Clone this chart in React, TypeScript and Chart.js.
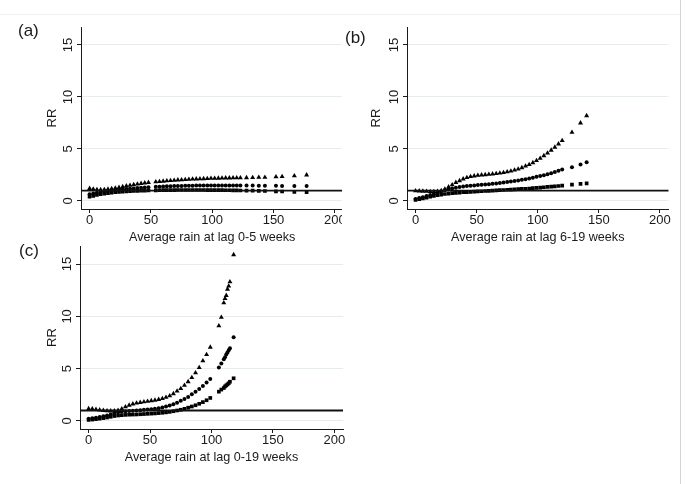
import React, { useEffect, useRef } from "react";
import { Chart, registerables } from "chart.js";
Chart.register(...registerables);

// ---------- data ----------
const xTicks = [0, 50, 100, 150, 200];
const yTicks = [0, 5, 10, 15];
const refRR = 1;

// (a) lag 0-5 weeks
const rainA = [0,3,6,9,12,15,18,21,24,27,30,33,36,39,42,45,48,54,57,60,63,66,69,72,75,78,81,84,87,90,93,96,99,102,105,108,111,114,117,120,123,128,133,138,143,152,157,167,177];
const upperA = [1.2,1.15,1.1,1.08,1.1,1.13,1.18,1.24,1.3,1.37,1.44,1.5,1.56,1.62,1.68,1.73,1.78,
  1.84,1.87,1.9,1.93,1.96,1.99,2.02,2.04,2.06,2.08,2.1,2.12,2.13,2.14,2.15,2.17,2.18,2.19,2.2,2.21,2.21,2.22,2.22,2.23,
  2.24,2.25,2.27,2.28,2.32,2.34,2.42,2.5];
const rrA = [0.65,0.72,0.79,0.86,0.92,0.97,1.01,1.05,1.09,1.12,1.15,1.18,1.21,1.24,1.27,1.3,1.33,
  1.36,1.38,1.39,1.41,1.42,1.43,1.44,1.45,1.46,1.47,1.47,1.48,1.48,1.49,1.49,1.5,1.5,1.5,1.5,1.5,1.5,1.5,1.49,1.49,
  1.48,1.48,1.47,1.47,1.46,1.45,1.44,1.43];
const lowerA = [0.42,0.5,0.58,0.65,0.71,0.76,0.8,0.84,0.87,0.9,0.92,0.94,0.96,0.98,0.99,1.0,1.01,
  1.02,1.03,1.04,1.04,1.05,1.05,1.06,1.06,1.06,1.06,1.06,1.06,1.06,1.06,1.05,1.05,1.05,1.04,1.04,1.03,1.03,1.02,1.02,1.01,
  1.0,0.99,0.97,0.96,0.93,0.91,0.87,0.84];

// (b) lag 6-19 weeks
const rainB = [0,3,6,9,12,15,18,21,24,27,30,33,36,39,42,45,48,51,54,57,60,63,66,69,72,75,78,81,84,87,90,93,96,99,102,105,108,111,114,117,120,128,135,140];
const upperB = [0.98,0.96,0.94,0.92,0.91,0.9,0.92,1.0,1.15,1.35,1.55,1.78,1.95,2.12,2.25,2.34,2.41,2.46,2.5,2.53,2.56,2.6,2.64,2.68,2.73,2.8,2.88,2.97,3.07,3.2,3.35,3.5,3.68,3.88,4.1,4.35,4.6,4.88,5.17,5.48,5.8,6.6,7.5,8.2];
const rrB = [0.2,0.28,0.37,0.47,0.57,0.68,0.8,0.92,1.03,1.13,1.21,1.28,1.34,1.39,1.43,1.47,1.5,1.53,1.56,1.59,1.62,1.65,1.68,1.72,1.77,1.82,1.87,1.92,1.98,2.04,2.1,2.17,2.24,2.32,2.4,2.48,2.57,2.67,2.78,2.9,3.02,3.25,3.5,3.72];
const lowerB = [0.1,0.17,0.25,0.33,0.41,0.49,0.56,0.62,0.67,0.71,0.75,0.78,0.81,0.84,0.86,0.88,0.9,0.92,0.94,0.96,0.98,1.0,1.02,1.04,1.06,1.08,1.1,1.12,1.14,1.16,1.18,1.2,1.23,1.26,1.29,1.32,1.35,1.38,1.41,1.44,1.47,1.58,1.65,1.7];

// (c) lag 0-19 weeks
const rainC = [0,3,6,9,12,15,18,21,24,27,30,33,36,39,42,45,48,51,54,57,60,63,66,69,72,75,78,81,84,87,90,93,96,99,106,108,110,111,112,113,114,115,118];
const upperC = [1.17,1.15,1.1,1.05,1.0,0.97,0.95,0.96,1.02,1.15,1.35,1.5,1.62,1.7,1.77,1.83,1.88,1.93,1.98,2.05,2.13,2.25,2.4,2.6,2.85,3.1,3.4,3.75,4.15,4.6,5.1,5.75,6.35,7.05,
  9.1,9.9,11.3,11.7,12.0,12.6,12.9,13.3,15.9];
const rrC = [0.2,0.25,0.3,0.37,0.45,0.53,0.62,0.72,0.82,0.88,0.92,0.95,0.98,1.0,1.03,1.06,1.09,1.12,1.16,1.21,1.28,1.37,1.48,1.6,1.75,1.92,2.1,2.3,2.55,2.8,3.05,3.35,3.68,4.02,
  5.1,5.5,5.9,6.1,6.35,6.55,6.75,6.95,8.0];
const lowerC = [0.1,0.13,0.17,0.22,0.27,0.33,0.4,0.47,0.52,0.55,0.58,0.6,0.61,0.62,0.64,0.66,0.68,0.7,0.72,0.75,0.78,0.82,0.87,0.93,1.0,1.07,1.16,1.27,1.38,1.5,1.64,1.8,1.98,2.2,
  2.8,3.0,3.15,3.3,3.4,3.5,3.6,3.75,4.08];

// ---------- styling ----------
const FONT = "'Liberation Sans', Arial, Helvetica, sans-serif";
const INK = "#1a1a1a";

type Geom = {
  cx: number; cy: number; w: number; h: number;
  left: number; top: number; right: number; bottom: number;
  rrPad: number; xTitlePad: number; bg?: string;
};

const geomA: Geom = { cx: 0, cy: 0, w: 360, h: 250, left: 81, top: 27, right: 343.4, bottom: 209, rrPad: 44.7, xTitlePad: 5.4 };
const geomB: Geom = { cx: 342, cy: 0, w: 343, h: 250, left: 65, top: 27, right: 326.5, bottom: 209, rrPad: 26.9, xTitlePad: 5.4, bg: "#fff" };
const geomC: Geom = { cx: 0, cy: 230, w: 360, h: 254, left: 80, top: 16, right: 343, bottom: 199, rrPad: 44.7, xTitlePad: 19.4 };

const refLinePlugin = {
  id: "refLine",
  afterDatasetsDraw(chart: any) {
    const { ctx, chartArea, scales } = chart;
    const y = scales.y.getPixelForValue(refRR);
    ctx.save();
    ctx.strokeStyle = "#111";
    ctx.lineWidth = 1.8;
    ctx.beginPath();
    ctx.moveTo(chartArea.left, y);
    ctx.lineTo(chartArea.right, y);
    ctx.stroke();
    ctx.restore();
  },
};

function buildConfig(rain: number[], upper: number[], rr: number[], lower: number[], xTitle: string, g: Geom): any {
  const pts = (ys: number[]) => rain.map((x, i) => ({ x, y: ys[i] }));
  const tickFont = { family: FONT, size: 13 };
  return {
    type: "scatter",
    data: {
      datasets: [
        { data: pts(upper), pointStyle: "triangle", pointRadius: 2.9, backgroundColor: "#000", borderWidth: 0 },
        { data: pts(rr), pointStyle: "circle", pointRadius: 2.0, backgroundColor: "#000", borderWidth: 0 },
        { data: pts(lower), pointStyle: "rect", pointRadius: 2.6, backgroundColor: "#000", borderWidth: 0 },
      ],
    },
    options: {
      animation: false,
      responsive: false,
      maintainAspectRatio: false,
      events: [],
      layout: { padding: { left: 0, top: g.top, right: g.w - g.right, bottom: 0 } },
      plugins: { legend: { display: false }, tooltip: { enabled: false }, title: { display: false } },
      scales: {
        x: {
          type: "linear",
          position: "bottom",
          min: -7,
          max: 207,
          afterBuildTicks: (s: any) => { s.ticks = xTicks.map((v) => ({ value: v })); },
          afterFit: (s: any) => { s.height = g.h - g.bottom; },
          grid: { drawOnChartArea: false, drawTicks: true, tickLength: 4, tickColor: INK },
          border: { color: INK, width: 1 },
          ticks: { font: tickFont, color: INK, padding: 0, maxRotation: 0, minRotation: 0, autoSkip: false },
          title: { display: true, text: xTitle, color: INK, font: { family: FONT, size: 12.6 }, padding: { top: 0, bottom: g.xTitlePad } },
        },
        y: {
          type: "linear",
          position: "left",
          min: -0.77,
          max: 16.73,
          afterBuildTicks: (s: any) => { s.ticks = yTicks.map((v) => ({ value: v })); },
          afterFit: (s: any) => { s.width = g.left; },
          grid: { color: "#e4edf0", lineWidth: 1, drawTicks: true, tickLength: 4, tickColor: INK },
          border: { color: INK, width: 1 },
          ticks: { font: tickFont, color: INK, padding: 1, minRotation: 90, maxRotation: 90, crossAlign: "center", autoSkip: false },
          title: { display: true, text: "RR", color: INK, font: { family: FONT, size: 13 }, padding: { top: g.rrPad, bottom: 0 } },
        },
      },
    },
    plugins: [refLinePlugin],
  };
}

const panelLabel = (text: string, left: number, top: number) => (
  <div
    style={{
      position: "absolute", left, top, fontFamily: FONT, fontSize: 17, lineHeight: "17px",
      color: INK, whiteSpace: "nowrap",
    }}
  >
    {text}
  </div>
);

export default function App() {
  const refA = useRef<HTMLCanvasElement | null>(null);
  const refB = useRef<HTMLCanvasElement | null>(null);
  const refC = useRef<HTMLCanvasElement | null>(null);

  useEffect(() => {
    const charts: Chart[] = [];
    if (refA.current) charts.push(new Chart(refA.current, buildConfig(rainA, upperA, rrA, lowerA, "Average rain at lag 0-5 weeks", geomA)));
    if (refB.current) charts.push(new Chart(refB.current, buildConfig(rainB, upperB, rrB, lowerB, "Average rain at lag 6-19 weeks", geomB)));
    if (refC.current) charts.push(new Chart(refC.current, buildConfig(rainC, upperC, rrC, lowerC, "Average rain at lag 0-19 weeks", geomC)));
    return () => charts.forEach((c) => c.destroy());
  }, []);

  const canvasStyle = (g: Geom): React.CSSProperties => ({
    position: "absolute", left: g.cx, top: g.cy, width: g.w, height: g.h, background: g.bg || "transparent", display: "block",
  });

  return (
    <div style={{ position: "absolute", left: 0, top: 0, width: 685, height: 484, background: "#fff", overflow: "hidden" }}>
      <canvas ref={refA} width={geomA.w} height={geomA.h} style={canvasStyle(geomA)} />
      <canvas ref={refB} width={geomB.w} height={geomB.h} style={canvasStyle(geomB)} />
      <canvas ref={refC} width={geomC.w} height={geomC.h} style={canvasStyle(geomC)} />
      {panelLabel("(a)", 18, 21.5)}
      {panelLabel("(b)", 345, 29)}
      {panelLabel("(c)", 19, 241.5)}
      <div style={{ position: "absolute", left: 0, top: 14, width: 680, height: 1, background: "#f0f0f0" }} />
      <div style={{ position: "absolute", left: 680, top: 0, width: 1, height: 484, background: "#d4d4d4" }} />
    </div>
  );
}
